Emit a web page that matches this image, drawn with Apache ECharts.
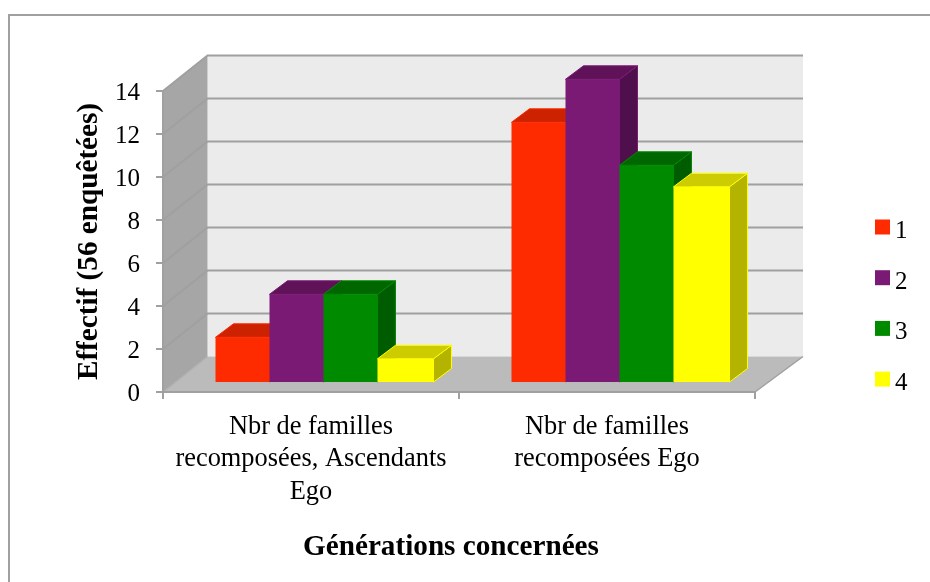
<!DOCTYPE html>
<html><head><meta charset="utf-8">
<style>html,body{margin:0;padding:0;background:#fff}#c{width:930px;height:582px}</style>
<script src="https://cdn.jsdelivr.net/npm/echarts@6/dist/echarts.min.js"></script>
</head><body><div id="c"></div>
<script>
const categories = ['Nbr de familles\nrecomposées, Ascendants\nEgo', 'Nbr de familles\nrecomposées Ego'];
const seriesNames = ['1', '2', '3', '4'];
const values1 = [2, 12];
const values2 = [4, 14];
const values3 = [4, 10];
const values4 = [1, 9];
const allValues = [values1, values2, values3, values4];
const wallTicks = [2, 4, 6, 8, 10, 12, 14];
const frontColors = ['#ff2b00', '#7a1a75', '#008a00', '#ffff00'];
const topColors = ['#cc2200', '#5f1257', '#006600', '#cccc00'];
const sideColors = ['#a81c00', '#4f0f4c', '#005c00', '#b3b300'];
const edgeColors = ['#ff2b00', '#7a1a75', '#008a00', '#ffff00'];

const WALL_DX = 44.5, WALL_DY = -35.5, WALL_RIGHT_DX = 48;
const BAR_DX = 18, BAR_DY = -13.5, BASE_DX = 12.5, BASE_DY = -10, TOP_DY = -11.7;
const BAR_W = 54 / 296;
const LINE = '#a0a0a0';

function wallsItem(params) {
  const c = params.coordSys, l = c.x, r = c.x + c.width, t = c.y, b = c.y + c.height;
  const bl = l + WALL_DX, br = r + WALL_RIGHT_DX;
  const poly = (pts, fill) => ({type: 'polygon', shape: {points: pts}, style: {fill}});
  return {type: 'group', children: [
    poly([[bl, t + WALL_DY], [br, t + WALL_DY], [br, b + WALL_DY], [bl, b + WALL_DY]], '#ebebeb'),
    poly([[l, t], [bl, t + WALL_DY], [bl, b + WALL_DY], [l, b]], '#a6a6a6'),
    poly([[l, b], [bl, b + WALL_DY], [br, b + WALL_DY], [r, b]], '#bbbbbb'),
    {type: 'polyline', shape: {points: [[l, b], [bl, b + WALL_DY]]}, style: {stroke: '#b0b0b0', lineWidth: 1.5, fill: 'none'}},
    {type: 'polyline', shape: {points: [[r, b], [br, b + WALL_DY]]}, style: {stroke: LINE, lineWidth: 1.5, fill: 'none'}}
  ]};
}
function gridItem(params, api) {
  const c = params.coordSys, l = c.x, r = c.x + c.width;
  const y = api.coord([0, api.value(0)])[1];
  return {type: 'polyline', shape: {points: [[l, y], [l + WALL_DX, y + WALL_DY], [r + WALL_RIGHT_DX, y + WALL_DY]]},
    style: {stroke: LINE, lineWidth: 2, fill: 'none'}};
}
function barRenderer(idx) {
  return function (params, api) {
    const cat = api.value(0), val = api.value(1);
    const w = api.size([1, 0])[0] * BAR_W;
    const p = api.coord([cat, val]), z = api.coord([cat, 0]);
    const x0 = p[0] - 2 * w + BASE_DX + idx * w, x1 = x0 + w + (idx === 3 ? 2 : 0);
    const yt = p[1] + TOP_DY, yb = z[1] + BASE_DY;
    const st = fill => ({fill, stroke: edgeColors[idx], lineWidth: 1});
    return {type: 'group', children: [
      {type: 'polygon', shape: {points: [[x1, yt], [x1 + BAR_DX, yt + BAR_DY], [x1 + BAR_DX, yb + BAR_DY], [x1, yb]]}, style: st(sideColors[idx])},
      {type: 'polygon', shape: {points: [[x0, yt], [x0 + BAR_DX, yt + BAR_DY], [x1 + BAR_DX, yt + BAR_DY], [x1, yt]]}, style: st(topColors[idx])},
      {type: 'rect', shape: {x: x0, y: yt, width: x1 - x0, height: yb - yt}, style: {fill: frontColors[idx]}}
    ]};
  };
}
const font = '"Liberation Serif","Times New Roman",serif';
const chart = echarts.init(document.getElementById('c'), null, {renderer: 'canvas'});
chart.setOption({
  animation: false,
  backgroundColor: '#ffffff',
  textStyle: {fontFamily: font},
  graphic: [{type: 'polyline', z: -1, silent: true, shape: {points: [[9, 582], [9, 15], [930, 15]]},
    style: {fill: 'none', stroke: '#a0a0a0', lineWidth: 2}}],
  grid: {left: 163, top: 91, width: 592, height: 301, containLabel: false},
  legend: {orient: 'vertical', left: 870, top: 214, itemWidth: 15, itemHeight: 15, itemGap: 25.7, data: seriesNames,
    icon: 'rect', selectedMode: false,
    formatter: n => '{a|' + n + '}',
    textStyle: {fontFamily: font, fontSize: 25, color: '#000',
      rich: {a: {fontFamily: font, fontSize: 25, color: '#000', padding: [9, 0, 0, 0]}}}},
  xAxis: {type: 'category', data: categories, z: 1.5,
    name: 'Générations concernées', nameLocation: 'middle', nameGap: 141,
    nameTextStyle: {fontFamily: font, fontSize: 29.2, fontWeight: 'bold', color: '#000', padding: [0, 16, 0, 0]},
    axisLine: {lineStyle: {color: LINE, width: 2}},
    axisTick: {show: true, length: 7, alignWithLabel: false, lineStyle: {color: LINE, width: 2}},
    axisLabel: {fontFamily: font, fontSize: 26.4, color: '#000', lineHeight: 32.5, margin: 18.5, interval: 0},
    splitLine: {show: false}},
  yAxis: {type: 'value', min: 0, max: 14, interval: 2, z: 1.5,
    name: 'Effectif (56 enquêtées)', nameLocation: 'middle', nameGap: 59,
    nameTextStyle: {fontFamily: font, fontSize: 29.2, fontWeight: 'bold', color: '#000'},
    axisLine: {show: true, lineStyle: {color: LINE, width: 2}},
    axisTick: {show: true, length: 7, lineStyle: {color: LINE, width: 2}},
    axisLabel: {fontFamily: font, fontSize: 25, color: '#000', margin: 23, formatter: '{a|{value}}',
      rich: {a: {fontFamily: font, fontSize: 25, color: '#000', padding: [5, 0, 0, 0]}}},
    splitLine: {show: false}},
  series: [
    {type: 'custom', name: 'walls', z: 1, silent: true, renderItem: wallsItem, data: [0], encode: {x: -1, y: -1}},
    {type: 'custom', name: 'wallLines', z: 1.2, silent: true, renderItem: gridItem, data: wallTicks.map(v => [v]), encode: {y: 0}}
  ].concat(seriesNames.map((name, i) => ({
    type: 'custom', name, z: 2 + i * 0.1, renderItem: barRenderer(i),
    itemStyle: {color: frontColors[i]},
    data: allValues[i].map((v, j) => [j, v]), encode: {x: 0, y: 1}
  })))
});
</script></body></html>
